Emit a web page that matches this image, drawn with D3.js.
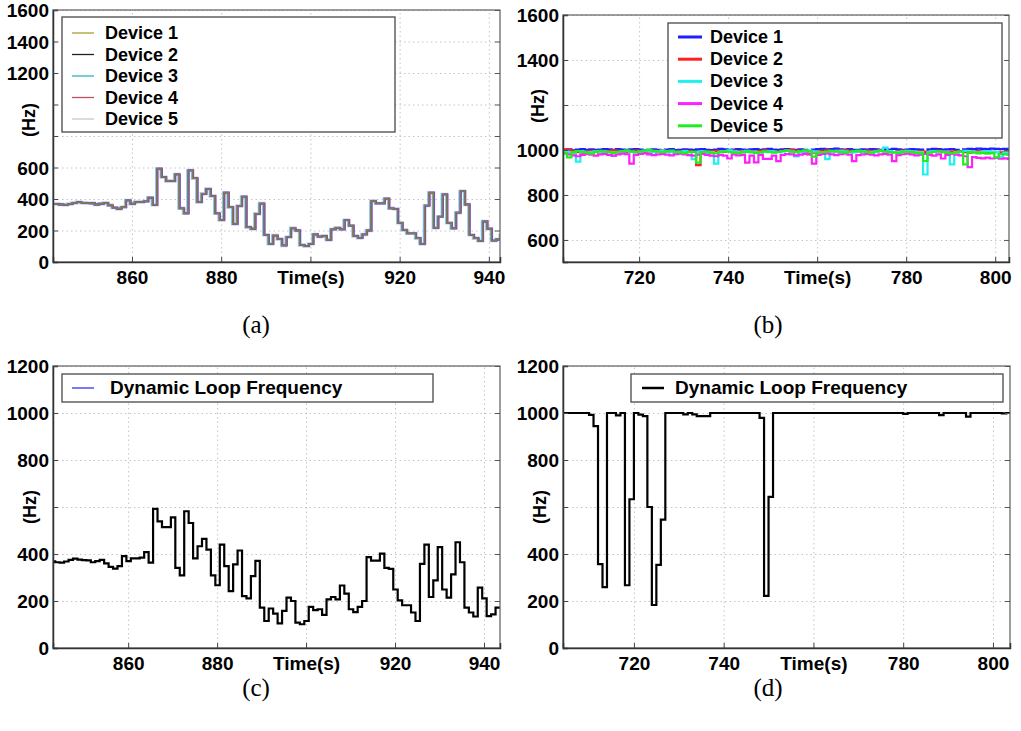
<!DOCTYPE html>
<html><head><meta charset="utf-8">
<script src="https://cdn.jsdelivr.net/npm/d3@7"></script>
<style>
body{margin:0;background:#fff;}
svg{display:block;font-family:"Liberation Sans",Arial,sans-serif;}
.tick text{font-weight:bold;fill:#000;}
</style></head>
<body><svg id="chart" width="1021" height="731"></svg>
<script>
// ---------- data ----------
// Panel (a)/(c): dynamic loop frequency, one value per second starting at t0
const loopStartAC = 842.6;
const loopFreqAC = [
  369,365,363,368,375,380,376,374,373,365,
  370,375,360,345,338,348,391,370,381,381,
  385,408,363,592,539,514,514,556,341,309,
  582,532,381,433,464,419,309,267,440,348,
  242,356,415,221,211,306,371,172,115,168,
  146,105,158,214,200,108,101,115,175,161,
  165,141,207,217,207,266,231,165,153,175,
  200,387,372,372,402,341,337,249,203,182,
  182,151,115,358,440,217,288,429,249,214,
  313,450,365,172,151,134,257,211,136,143,172
];
// Panel (a): all five devices follow the loop frequency
const deviceNames = ["Device 1","Device 2","Device 3","Device 4","Device 5"];
const devicesA = [loopFreqAC, loopFreqAC, loopFreqAC, loopFreqAC, loopFreqAC];
const deviceLagA = [0, 0.05, -0.15, 0.15, -0.05];
const legendColorsA = ["#a8a02a","#222222","#30b4c0","#c05060","#c8c8c8"];
const lineColorsA = ["#8c7a3a","#4a58c8","#6cc8f0","#b048c8","#c0c4f0"];

// Panel (b): five devices at fixed ~1000 Hz, one value per second
const startB = 702.8;
const dev1B = [
  1000,1003,998,1002,1004,1001,1003,1000,1002,1004,
  1003,1001,1004,1002,1000,1003,1004,1002,998,1001,
  1003,1000,996,1002,1004,999,1001,1003,1002,1000,
  1003,1004,1001,999,1002,1005,1003,1001,1002,1004,
  1002,1000,1003,1004,1001,1003,1005,1002,1000,1003,
  1004,1002,1001,1003,1000,995,1002,1004,1005,1003,
  1004,1006,1003,1002,1004,1001,1000,1003,1002,1004,
  1003,1001,1004,1002,1005,1003,1000,1002,1004,1003,
  1002,990,1003,1005,1004,1002,1003,1004,1001,995,
  1003,1005,1004,1006,1005,1004,1006,1005,1004,1005,1004
];
const dev2B = [
  1003,1001,995,990,988,992,996,994,990,992,
  995,998,996,993,990,994,997,995,990,988,
  992,995,997,994,992,989,993,996,994,991,
  933,990,990,994,996,993,991,995,997,994,
  990,992,995,993,996,998,994,991,993,996,
  999,1001,997,994,992,981,988,993,996,998,
  995,993,997,999,996,994,992,995,997,994,
  996,998,995,992,990,994,997,995,993,991,
  995,993,990,994,996,992,989,993,995,992,
  990,988,992,995,993,990,992,991,989,990,991
];
const dev3B = [
  995,990,985,948,992,988,990,994,991,988,
  992,974,990,993,995,991,989,993,996,992,
  990,994,997,993,990,988,992,995,991,959,
  990,993,988,990,939,992,995,998,994,990,
  992,996,993,990,988,992,995,993,990,994,
  996,993,971,990,994,997,993,990,988,959,
  990,993,996,994,991,989,993,995,992,990,
  994,997,1010,995,992,990,994,996,993,991,
  990,891,992,995,993,990,988,936,990,993,
  996,994,991,989,993,995,992,990,970,988,985
];
const dev4B = [
  985,980,976,972,978,982,979,975,980,983,
  978,975,980,984,981,939,978,982,985,980,
  977,980,983,979,976,981,984,980,977,975,
  979,982,978,975,972,978,975,962,980,976,
  978,944,975,945,978,960,960,975,950,978,
  982,980,976,979,983,980,939,978,982,985,
  980,977,981,984,979,950,977,980,983,979,
  976,980,983,979,950,977,981,984,980,976,
  979,982,978,975,980,962,978,982,979,976,
  972,924,968,965,963,966,962,965,961,963,960
];
const dev5B = [
  985,967,990,995,992,988,984,990,996,993,
  990,987,992,995,998,994,990,993,997,1000,
  996,992,990,994,997,993,989,986,990,993,
  944,990,993,987,985,990,994,991,988,986,
  990,993,989,986,990,994,992,988,991,995,
  997,993,990,995,998,994,970,988,990,993,
  996,994,991,988,992,995,997,993,990,988,
  992,995,993,990,988,986,990,993,991,987,
  985,951,988,992,994,990,987,985,989,992,
  936,990,988,985,987,984,986,967,982,980,978
];
const devicesB = [dev1B, dev2B, dev3B, dev4B, dev5B];
const colorsB = ["#1f1fff","#ff2020","#20f0f0","#ff20ff","#20ee20"];

// Panel (d): dynamic loop frequency, one value per second
const startD = 704;
const loopFreqD = [
  1000,1000,1000,1000,1000,1000,992,944,357,259,
  1000,1000,990,1000,267,633,1000,993,987,600,
  183,354,546,1000,1000,1000,1000,994,1000,994,
  987,987,987,1000,1000,1000,1000,1000,1000,1000,
  1000,1000,1000,1000,979,222,643,1000,1000,1000,
  1000,1000,1000,1000,1000,1000,1000,1000,1000,1000,
  1000,1000,1000,1000,1000,1000,1000,1000,1000,1000,
  1000,1000,1000,1000,1000,1000,996,1000,1000,1000,
  1000,1000,1000,1000,991,1000,1000,1000,1000,1000,
  985,1000,1000,1000,1000,1000,1000,1000,998,1000
];

// tick values
const yTicksA = [0,200,400,600,800,1000,1200,1400,1600];
const yHiddenA = [800,1000];
const yTicksB = [600,800,1000,1200,1400,1600];
const yHiddenB = [1200];
const yTicksCD = [0,200,400,600,800,1000,1200];
const yHiddenCD = [600];
const xTicksAC = [860,880,900,920,940];
const xTicksBD = [720,740,760,780,800];

// ---------- drawing ----------
const svg = d3.select("#chart");

function toPoints(values, t0, lag){
  const pts = values.map((v,i)=>[t0+i+lag, v]);
  pts.push([t0+values.length+lag, values[values.length-1]]);
  return pts;
}

function drawPanel(cfg, id){
  const x = d3.scaleLinear().domain(cfg.xDomain).range([cfg.left, cfg.right]);
  const y = d3.scaleLinear().domain(cfg.yDomain).range([cfg.bottom, cfg.top]);
  const g = svg.append("g");
  const W = cfg.right-cfg.left, H = cfg.bottom-cfg.top;

  // grid
  g.append("g").attr("transform",`translate(${cfg.left},0)`)
    .call(d3.axisLeft(y).tickValues(cfg.yTicks).tickSize(-W).tickFormat(""))
    .call(s=>{s.select(".domain").remove();
      s.selectAll("line").attr("stroke","#c4c4c4").attr("stroke-dasharray","1.5,3");});
  g.append("g").attr("transform",`translate(0,${cfg.bottom})`)
    .call(d3.axisBottom(x).tickValues(cfg.xTicks).tickSize(-H).tickFormat(""))
    .call(s=>{s.select(".domain").remove();
      s.selectAll("line").attr("stroke","#c4c4c4").attr("stroke-dasharray","1.5,3");});

  // clip
  svg.append("clipPath").attr("id","clip"+id).append("rect")
    .attr("x",cfg.left).attr("y",cfg.top).attr("width",W).attr("height",H);

  const line = d3.line().curve(d3.curveStepAfter).x(d=>x(d[0])).y(d=>y(d[1]));
  const lg = g.append("g").attr("clip-path",`url(#clip${id})`);
  cfg.series.forEach(s=>{
    lg.append("path").datum(s.points).attr("d",line)
      .attr("fill","none").attr("stroke",s.color).attr("stroke-width",s.width)
      .attr("stroke-linejoin","miter");
  });

  // frame
  g.append("rect").attr("x",cfg.left).attr("y",cfg.top).attr("width",W).attr("height",H)
    .attr("fill","none").attr("stroke","#6a6a6a").attr("stroke-width",1.3);

  // axes
  const fs = 19;
  g.append("g").attr("transform",`translate(${cfg.left},0)`)
    .call(d3.axisLeft(y).tickValues(cfg.yTicks).tickSize(-5).tickPadding(4)
      .tickFormat(d=>cfg.yHidden.includes(d)?"":d))
    .call(s=>{s.select(".domain").attr("stroke","#333").attr("stroke-width",1.5);
      s.selectAll("line").attr("stroke","#444");
      s.selectAll("text").attr("font-size",fs).attr("dy","0.36em");});
  g.append("g").attr("transform",`translate(${cfg.right},0)`)
    .call(d3.axisRight(y).tickValues(cfg.yTicks).tickSize(-5).tickFormat(""))
    .call(s=>{s.select(".domain").remove(); s.selectAll("line").attr("stroke","#555");});
  const mid = cfg.xTicks[2];
  g.append("g").attr("transform",`translate(0,${cfg.bottom})`)
    .call(d3.axisBottom(x).tickValues(cfg.xTicks).tickSize(-5).tickPadding(9)
      .tickFormat(d=>d===mid?"Time(s)":d))
    .call(s=>{s.select(".domain").attr("stroke","#333").attr("stroke-width",1.5);
      s.selectAll("line").attr("stroke","#444");
      s.selectAll("text").attr("font-size",fs);});

  // (Hz)
  g.append("text").attr("transform",`translate(${cfg.hzX},${cfg.hzY}) rotate(-90)`)
    .attr("text-anchor","middle").attr("dy","0.35em")
    .attr("font-size",18).attr("font-weight","bold").text("(Hz)");

  // legend
  const L = cfg.legend;
  g.append("rect").attr("x",L.x).attr("y",L.y).attr("width",L.w).attr("height",L.h)
    .attr("fill","#fff").attr("stroke","#555").attr("stroke-width",1.4);
  L.items.forEach((it,i)=>{
    const by = L.base + i*L.step;
    g.append("line").attr("x1",L.lx1).attr("x2",L.lx2).attr("y1",by-6).attr("y2",by-6)
      .attr("stroke",it.color).attr("stroke-width",it.width);
    g.append("text").attr("x",L.tx).attr("y",by).attr("font-size",L.fs)
      .attr("font-weight","bold").text(it.name);
  });

  // caption
  svg.append("text").attr("x",cfg.capX).attr("y",cfg.capY).attr("text-anchor","middle")
    .attr("font-family","'Liberation Serif','DejaVu Serif',serif").attr("font-size",25)
    .text(cfg.caption);
}

// panel a
drawPanel({
  left:53,right:500,top:10,bottom:262,
  xDomain:[842.3,942.5], yDomain:[0,1600],
  yTicks:yTicksA, yHidden:yHiddenA, xTicks:xTicksAC,
  series:[4,2,3,1,0].map(i=>({points:toPoints(devicesA[i],loopStartAC,deviceLagA[i]),
    color:lineColorsA[i], width: i===4?3.4:(i===0?1.4:1.8)})),
  hzX:29,hzY:120,
  legend:{x:62,y:17,w:333,h:115,lx1:72,lx2:94,tx:105,base:39,step:21.5,fs:18,
    items:deviceNames.map((n,i)=>({name:n,color:legendColorsA[i],width:1.3}))},
  caption:"(a)",capX:256,capY:333
},"a");

// panel b
drawPanel({
  left:563,right:1009,top:15,bottom:262,
  xDomain:[702.9,803.1], yDomain:[502,1600],
  yTicks:yTicksB, yHidden:yHiddenB, xTicks:xTicksBD,
  series:[0,1,2,3,4].map(i=>({points:toPoints(devicesB[i],startB,0),
    color:colorsB[i], width:2.2})),
  hzX:538,hzY:106,
  legend:{x:668,y:23,w:334,h:115,lx1:678,lx2:702,tx:710,base:43,step:22.2,fs:18,
    items:deviceNames.map((n,i)=>({name:n,color:colorsB[i],width:3}))},
  caption:"(b)",capX:768,capY:333
},"b");

// panel c
drawPanel({
  left:53,right:500,top:366,bottom:648,
  xDomain:[843.1,943.6], yDomain:[0,1200],
  yTicks:yTicksCD, yHidden:yHiddenCD, xTicks:xTicksAC,
  series:[{points:toPoints(loopFreqAC,loopStartAC,0),color:"#000",width:2.2}],
  hzX:30,hzY:507,
  legend:{x:62,y:374,w:371,h:28,lx1:72,lx2:94,tx:110,base:394,step:0,fs:19,
    items:[{name:"Dynamic Loop Frequency",color:"#2020ff",width:1.2}]},
  caption:"(c)",capX:256,capY:696
},"c");

// panel d
drawPanel({
  left:563,right:1010,top:366,bottom:648,
  xDomain:[704.2,803.8], yDomain:[0,1200],
  yTicks:yTicksCD, yHidden:yHiddenCD, xTicks:xTicksBD,
  series:[{points:toPoints(loopFreqD,startD,0),color:"#000",width:2.2}],
  hzX:540,hzY:507,
  legend:{x:631,y:374,w:372,h:28,lx1:642,lx2:664,tx:675,base:394,step:0,fs:19,
    items:[{name:"Dynamic Loop Frequency",color:"#000",width:2.5}]},
  caption:"(d)",capX:768,capY:696
},"d");
</script></body></html>
